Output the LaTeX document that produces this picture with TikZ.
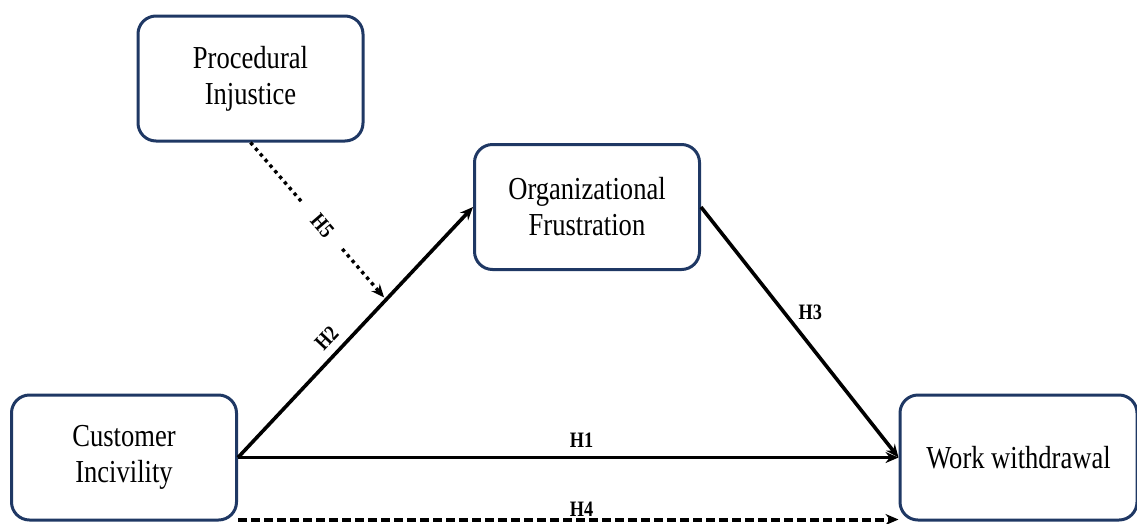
\documentclass[tikz,border=0pt]{standalone}
\usepackage{fontspec}
\setmainfont{Liberation Serif}[FakeStretch=0.83]
\usetikzlibrary{arrows.meta}
\definecolor{boxblue}{RGB}{31,56,100}

\begin{document}
\begin{tikzpicture}[
    x=1pt, y=-1pt,
    >={Stealth[length=13pt, width=11pt]},
    construct/.style={draw=boxblue, line width=3pt, rounded corners=18pt, fill=white, align=center, minimum width=225pt, minimum height=125pt, font=\fontsize{32}{36}\selectfont},
    link/.style={->, line width=3.6pt},
    hyp/.style={font=\fontsize{22}{24}\selectfont\bfseries, inner sep=3pt}
]
   \useasboundingbox (0,0) rectangle (1137,523);

   % Constructs
   \node[construct] (pi) at (250.5,78.5) {Procedural\\Injustice};
   \node[construct] (of) at (587,207) {Organizational\\Frustration};
   \node[construct] (ci) at (124,457.5) {Customer\\Incivility};
   \node[construct, minimum width=237pt] (ww) at (1018.5,457.5) {Work withdrawal};

   % Hypotheses
   \draw[link] (ci.east) -- node[hyp, above=5pt, pos=0.52] {H1} (ww.west);
   \draw[link] (ci.east) -- node[hyp, sloped, above=5pt, pos=0.43] {H2} coordinate[pos=0.63] (mod) (of.west);
   \draw[link] (of.east) -- node[hyp, above right, pos=0.47] {H3} (ww.west);
   \draw[link, line width=4pt, dash pattern=on 9pt off 4pt] ([yshift=2pt]ci.south east) -- node[hyp, above, inner sep=1pt, pos=0.52] {H4} ([yshift=2pt]ww.south west);
   \draw[link, line width=3.4pt, dash pattern=on 3.4pt off 4pt, shorten >=3pt] (pi.south) -- node[hyp, sloped, fill=white, inner xsep=18pt, pos=0.53] {H5} (mod); % moderation
\end{tikzpicture}
\end{document}
